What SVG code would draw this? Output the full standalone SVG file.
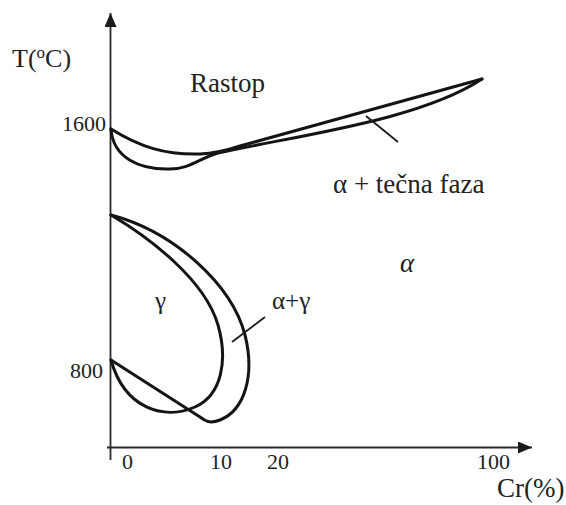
<svg xmlns="http://www.w3.org/2000/svg" width="566" height="505" viewBox="0 0 566 505">
<defs>
<marker id="arr" viewBox="0 0 14 12" refX="14" refY="6" markerWidth="14" markerHeight="12" markerUnits="userSpaceOnUse" orient="auto">
<path d="M0,0 L14,6 L0,12 z" fill="#1a1a1a"/>
</marker>
<style>
.axis{stroke:#2a2a2a;stroke-width:1.8;fill:none}
.curve{stroke:#141414;stroke-width:3;fill:none;stroke-linejoin:round;stroke-linecap:round}
.lead{stroke:#1a1a1a;stroke-width:1.8;fill:none}
text{font-family:"Liberation Serif","Times New Roman",serif;fill:#222}
.num{font-size:22px}
.lbl{font-size:27px}
</style>
</defs>
<rect width="566" height="505" fill="#fff"/>
<g id="axes">
<line class="axis" x1="110.5" y1="460" x2="110.5" y2="13" marker-end="url(#arr)"/>
<line class="axis" x1="107" y1="447.5" x2="532" y2="447.5" marker-end="url(#arr)"/>
</g>
<g id="curves">
<path class="curve" d="M111,129 C140,147 165,155 200,154 C215,153.5 225,151 240,146 L482,79"/>
<path class="curve" d="M111,129 C113,158 140,170 170,169 C190,169 200,158 218,153 C300,135 420,120 482,79"/>
<path class="curve" d="M111,215 C150,238 205,280 218,325 C228,360 222,395 195,407 C165,420 125,410 111,360"/>
<path class="curve" d="M111,215 C175,232 232,285 245,335 C255,375 245,410 220,420 C210,424 205,421 200,417 L111,360"/>
</g>
<g id="leaders">
<line class="lead" x1="366" y1="116" x2="398" y2="142"/>
<line class="lead" x1="265" y1="317" x2="232" y2="342"/>
</g>
<g id="labels">
<text x="12" y="67" style="font-size:26px">T(<tspan dy="-9" style="font-size:17px">o</tspan><tspan dy="9">C)</tspan></text>
<text class="num" x="106" y="131" text-anchor="end">1600</text>
<text class="num" x="103" y="378" text-anchor="end">800</text>
<text class="num" x="122" y="469">0</text>
<text class="num" x="210" y="469">10</text>
<text class="num" x="267" y="469">20</text>
<text class="num" x="477" y="469">100</text>
<text class="lbl" x="497" y="497">Cr(%)</text>
<text class="lbl" x="190" y="92">Rastop</text>
<text class="lbl" x="333" y="193">α + tečna faza</text>
<text class="lbl" x="400" y="272" font-style="italic">α</text>
<text class="lbl" x="272" y="309" style="font-size:25px">α+γ</text>
<text class="lbl" x="155" y="309" style="font-size:25px">γ</text>
</g>
</svg>
